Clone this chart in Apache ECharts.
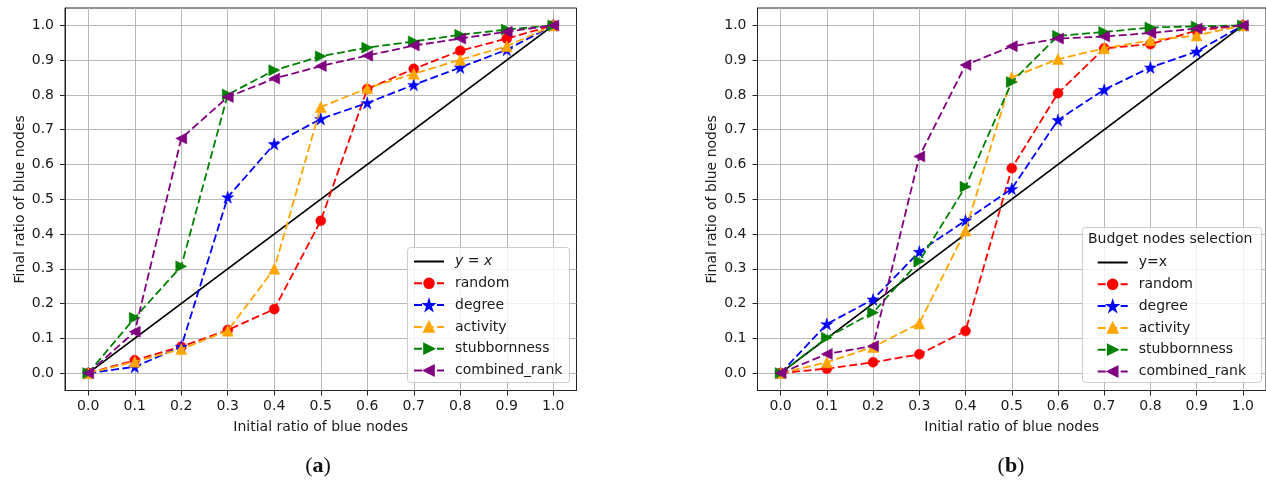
<!DOCTYPE html>
<html>
<head>
<meta charset="utf-8">
<script src="https://cdn.jsdelivr.net/npm/echarts@6/dist/echarts.min.js"></script>
<style>
html,body{margin:0;padding:0;background:#fff;}
#chart{width:1266px;height:483px;}
</style>
</head>
<body>
<div id="chart"></div>
<script>
// ---- data ----
const xValues = [0.0, 0.1, 0.2, 0.3, 0.4, 0.5, 0.6, 0.7, 0.8, 0.9, 1.0];
const tickValues = [0.0, 0.1, 0.2, 0.3, 0.4, 0.5, 0.6, 0.7, 0.8, 0.9, 1.0];
const tickLabels = ['0.0','0.1','0.2','0.3','0.4','0.5','0.6','0.7','0.8','0.9','1.0'];
const seriesNames = ['random', 'degree', 'activity', 'stubbornness', 'combined_rank'];

// panel (a)
const aIdentity      = [0.0, 1.0];
const aRandom        = [0.0, 0.037, 0.076, 0.124, 0.184, 0.438, 0.817, 0.875, 0.927, 0.962, 1.0];
const aDegree        = [0.0, 0.018, 0.076, 0.506, 0.659, 0.731, 0.777, 0.829, 0.879, 0.930, 1.0];
const aActivity      = [0.0, 0.033, 0.069, 0.122, 0.300, 0.765, 0.819, 0.861, 0.901, 0.940, 1.0];
const aStubbornness  = [0.0, 0.159, 0.307, 0.801, 0.871, 0.911, 0.936, 0.954, 0.973, 0.988, 1.0];
const aCombinedRank  = [0.0, 0.119, 0.675, 0.794, 0.847, 0.883, 0.913, 0.942, 0.962, 0.982, 1.0];

// panel (b)
const bIdentity      = [0.0, 1.0];
const bRandom        = [0.0, 0.013, 0.031, 0.054, 0.121, 0.589, 0.805, 0.934, 0.946, 0.985, 1.0];
const bDegree        = [0.0, 0.141, 0.212, 0.349, 0.439, 0.530, 0.728, 0.815, 0.879, 0.925, 1.0];
const bActivity      = [0.0, 0.031, 0.075, 0.143, 0.410, 0.850, 0.903, 0.934, 0.957, 0.971, 1.0];
const bStubbornness  = [0.0, 0.102, 0.174, 0.322, 0.536, 0.837, 0.970, 0.981, 0.994, 0.997, 1.0];
const bCombinedRank  = [0.0, 0.055, 0.078, 0.623, 0.886, 0.940, 0.962, 0.968, 0.978, 0.991, 1.0];

// ---- styling ----
const FONT = 'DejaVu Sans';
const FS = 14;
function starPath() {
  let d = '';
  for (let i = 0; i < 10; i++) {
    const a = (-90 + i * 36) * Math.PI / 180;
    const r = i % 2 === 0 ? 1 : 0.382;
    const px = (Math.cos(a) * r + 1) * 50, py = (Math.sin(a) * r + 1) * 50;
    d += (i === 0 ? 'M' : 'L') + px.toFixed(2) + ',' + py.toFixed(2) + ' ';
  }
  return 'path://' + d + 'Z';
}
const styles = {
  random:        { color: '#ff0000', symbol: 'circle', size: 10 },
  degree:        { color: '#0000ff', symbol: starPath(), size: 12 },
  activity:      { color: '#ffa500', symbol: 'triangle', size: 11 },
  stubbornness:  { color: '#008000', symbol: 'path://M0,0 L100,50 L0,100 Z', size: 11 },
  combined_rank: { color: '#800080', symbol: 'path://M100,0 L0,50 L100,100 Z', size: 11 }
};

function pairs(xs, ys) { return ys.map((y, i) => [xs[i], y]); }

function makeSeries(idx, identityName, identity, sets) {
  const out = [{
    name: identityName, type: 'line', xAxisIndex: idx, yAxisIndex: idx,
    data: pairs([0, 1], identity), symbol: 'none',
    lineStyle: { color: '#000', width: 1.8, type: 'solid' },
    itemStyle: { color: '#000' }, animation: false, z: 2
  }];
  seriesNames.forEach((n, k) => {
    const s = styles[n];
    out.push({
      name: n, type: 'line', xAxisIndex: idx, yAxisIndex: idx,
      data: pairs(xValues, sets[k]),
      symbol: s.symbol, symbolSize: s.size, showSymbol: true,
      lineStyle: { color: s.color, width: 1.8, type: [8, 3.5] },
      itemStyle: { color: s.color, borderColor: s.color, borderWidth: 0.5 },
      animation: false, z: 3 + k
    });
  });
  return out;
}

function xAxisCfg(gi) {
  return {
    type: 'value', gridIndex: gi, min: -0.05, max: 1.05,
    name: 'Initial ratio of blue nodes', nameLocation: 'middle', nameGap: 30,
    nameTextStyle: { fontFamily: FONT, fontSize: FS, color: '#1a1a1a' },
    axisLine: { show: true, onZero: false, lineStyle: { color: '#222', width: 1 } },
    axisTick: { show: true, inside: false, length: 5, customValues: tickValues, lineStyle: { color: '#222' } },
    axisLabel: { customValues: tickValues, margin: 9, fontFamily: FONT, fontSize: FS, color: '#1a1a1a',
                 formatter: v => tickLabels[Math.round(v * 10)] },
    splitLine: { show: true, lineStyle: { color: '#b8b8b8', width: 1 } }
  };
}
function yAxisCfg(gi) {
  return {
    type: 'value', gridIndex: gi, min: -0.05, max: 1.05,
    name: 'Final ratio of blue nodes', nameLocation: 'middle', nameGap: 38,
    nameTextStyle: { fontFamily: FONT, fontSize: FS, color: '#1a1a1a' },
    axisLine: { show: true, onZero: false, lineStyle: { color: '#222', width: 1 } },
    axisTick: { show: true, inside: false, length: 5, customValues: tickValues, lineStyle: { color: '#222' } },
    axisLabel: { customValues: tickValues, margin: 11, fontFamily: FONT, fontSize: FS, color: '#1a1a1a',
                 formatter: v => tickLabels[Math.round(v * 10)] },
    splitLine: { show: true, lineStyle: { color: '#b8b8b8', width: 1 } }
  };
}

function legendCfg(left, top, names, italicIdentity) {
  return {
    orient: 'vertical', left: left, top: top, padding: 0,
    itemWidth: 30, itemHeight: 12, itemGap: 7.8,
    selectedMode: false, z: 20,
    data: names.map((n, i) => i === 0 ? { name: n, itemStyle: { opacity: 0 } } : { name: n }),
    formatter: n => (italicIdentity && n === 'y = x') ? '{p|}{i|y}{t| = }{i|x}' : '{p|}{t|' + n + '}',
    textStyle: {
      fontFamily: FONT, fontSize: FS, color: '#1a1a1a', lineHeight: 12,
      rich: {
        p: { width: 6, lineHeight: 12 },
        t: { fontFamily: FONT, fontSize: FS, color: '#1a1a1a', lineHeight: 12 },
        i: { fontFamily: FONT, fontSize: FS, fontStyle: 'italic', color: '#1a1a1a', lineHeight: 12 }
      }
    }
  };
}

const chart = echarts.init(document.getElementById('chart'), null, { renderer: 'canvas' });
chart.setOption({
  backgroundColor: '#fff',
  animation: false,
  grid: [
    { left: 65, top: 8, width: 511.5, height: 382.5, show: true, borderColor: '#222', borderWidth: 1, backgroundColor: 'transparent' },
    { left: 757.5, top: 8, width: 511.5, height: 382.5, show: true, borderColor: '#222', borderWidth: 1, backgroundColor: 'transparent' }
  ],
  xAxis: [xAxisCfg(0), xAxisCfg(1)],
  yAxis: [yAxisCfg(0), yAxisCfg(1)],
  legend: [
    legendCfg(413, 254.5, ['y = x'].concat(seriesNames), true),
    legendCfg(1096.7, 255.5, ['y=x'].concat(seriesNames), false)
  ],
  series: [].concat(
    makeSeries(0, 'y = x', aIdentity, [aRandom, aDegree, aActivity, aStubbornness, aCombinedRank]),
    makeSeries(1, 'y=x', bIdentity, [bRandom, bDegree, bActivity, bStubbornness, bCombinedRank])
  ),
  graphic: [
    { type: 'rect', z: 10, shape: { x: 407.5, y: 247.5, width: 162, height: 135, r: 3 },
      style: { fill: 'rgba(255,255,255,0.8)', stroke: '#cccccc', lineWidth: 1 } },
    { type: 'rect', z: 10, shape: { x: 1082.5, y: 227.5, width: 179, height: 155, r: 3 },
      style: { fill: 'rgba(255,255,255,0.8)', stroke: '#cccccc', lineWidth: 1 } },
    { type: 'text', z: 21, x: 1088, y: 239.5,
      style: { text: 'Budget nodes selection', font: '14px "DejaVu Sans"', fill: '#1a1a1a', textVerticalAlign: 'middle' } },
    { type: 'text', z: 21, x: 318, y: 466,
      style: { text: '{n|(}{b|a}{n|)}', textAlign: 'center', textVerticalAlign: 'middle',
        rich: { n: { fontFamily: 'Liberation Serif', fontSize: 22, fill: '#111' },
                b: { fontFamily: 'Liberation Serif', fontSize: 22, fontWeight: 'bold', fill: '#111' } } } },
    { type: 'text', z: 21, x: 1011, y: 466,
      style: { text: '{n|(}{b|b}{n|)}', textAlign: 'center', textVerticalAlign: 'middle',
        rich: { n: { fontFamily: 'Liberation Serif', fontSize: 22, fill: '#111' },
                b: { fontFamily: 'Liberation Serif', fontSize: 22, fontWeight: 'bold', fill: '#111' } } } }
  ]
});
</script>
</body>
</html>
